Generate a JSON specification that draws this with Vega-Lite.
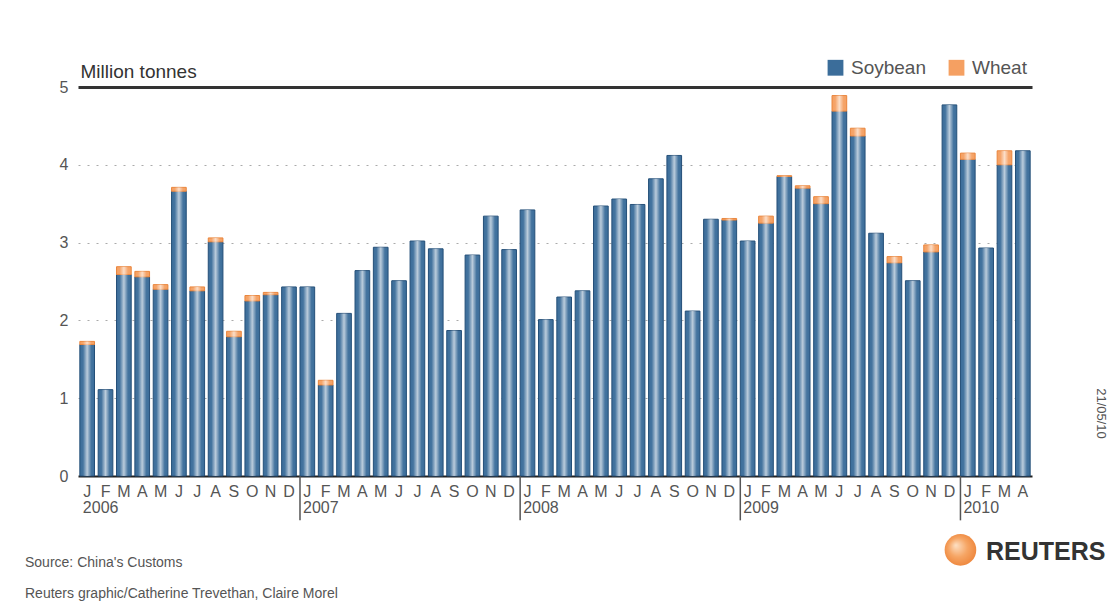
{
  "$schema": "https://vega.github.io/schema/vega-lite/v6.json",
  "width": 954,
  "height": 389,
  "autosize": {"type": "none"},
  "padding": {"left": 78, "top": 87, "right": 83, "bottom": 129},
  "background": "white",
  "config": {
    "font": "Liberation Sans",
    "view": {"stroke": null}
  },
  "title": {
    "text": "Source: China's Customs",
    "subtitle": "Reuters graphic/Catherine Trevethan, Claire Morel",
    "orient": "bottom",
    "anchor": "start",
    "frame": "group",
    "dx": -53,
    "offset": -10,
    "fontSize": 14,
    "fontWeight": "normal",
    "color": "#555",
    "subtitleFontSize": 14,
    "subtitleColor": "#555",
    "subtitlePadding": 17
  },
  "datasets": {
    "imports": [
      {"month": "2006-01", "Soybean": 1.69, "Wheat": 0.04},
      {"month": "2006-02", "Soybean": 1.11, "Wheat": 0},
      {"month": "2006-03", "Soybean": 2.59, "Wheat": 0.10},
      {"month": "2006-04", "Soybean": 2.56, "Wheat": 0.07},
      {"month": "2006-05", "Soybean": 2.40, "Wheat": 0.06},
      {"month": "2006-06", "Soybean": 3.66, "Wheat": 0.05},
      {"month": "2006-07", "Soybean": 2.38, "Wheat": 0.05},
      {"month": "2006-08", "Soybean": 3.01, "Wheat": 0.05},
      {"month": "2006-09", "Soybean": 1.79, "Wheat": 0.07},
      {"month": "2006-10", "Soybean": 2.25, "Wheat": 0.07},
      {"month": "2006-11", "Soybean": 2.33, "Wheat": 0.03},
      {"month": "2006-12", "Soybean": 2.43, "Wheat": 0},
      {"month": "2007-01", "Soybean": 2.43, "Wheat": 0},
      {"month": "2007-02", "Soybean": 1.17, "Wheat": 0.06},
      {"month": "2007-03", "Soybean": 2.09, "Wheat": 0},
      {"month": "2007-04", "Soybean": 2.64, "Wheat": 0},
      {"month": "2007-05", "Soybean": 2.94, "Wheat": 0},
      {"month": "2007-06", "Soybean": 2.51, "Wheat": 0},
      {"month": "2007-07", "Soybean": 3.02, "Wheat": 0},
      {"month": "2007-08", "Soybean": 2.92, "Wheat": 0},
      {"month": "2007-09", "Soybean": 1.87, "Wheat": 0},
      {"month": "2007-10", "Soybean": 2.84, "Wheat": 0},
      {"month": "2007-11", "Soybean": 3.34, "Wheat": 0},
      {"month": "2007-12", "Soybean": 2.91, "Wheat": 0},
      {"month": "2008-01", "Soybean": 3.42, "Wheat": 0},
      {"month": "2008-02", "Soybean": 2.01, "Wheat": 0},
      {"month": "2008-03", "Soybean": 2.30, "Wheat": 0},
      {"month": "2008-04", "Soybean": 2.38, "Wheat": 0},
      {"month": "2008-05", "Soybean": 3.47, "Wheat": 0},
      {"month": "2008-06", "Soybean": 3.56, "Wheat": 0},
      {"month": "2008-07", "Soybean": 3.49, "Wheat": 0},
      {"month": "2008-08", "Soybean": 3.82, "Wheat": 0},
      {"month": "2008-09", "Soybean": 4.12, "Wheat": 0},
      {"month": "2008-10", "Soybean": 2.12, "Wheat": 0},
      {"month": "2008-11", "Soybean": 3.30, "Wheat": 0},
      {"month": "2008-12", "Soybean": 3.29, "Wheat": 0.02},
      {"month": "2009-01", "Soybean": 3.02, "Wheat": 0},
      {"month": "2009-02", "Soybean": 3.25, "Wheat": 0.09},
      {"month": "2009-03", "Soybean": 3.85, "Wheat": 0.01},
      {"month": "2009-04", "Soybean": 3.70, "Wheat": 0.03},
      {"month": "2009-05", "Soybean": 3.50, "Wheat": 0.09},
      {"month": "2009-06", "Soybean": 4.69, "Wheat": 0.20},
      {"month": "2009-07", "Soybean": 4.37, "Wheat": 0.10},
      {"month": "2009-08", "Soybean": 3.12, "Wheat": 0},
      {"month": "2009-09", "Soybean": 2.74, "Wheat": 0.08},
      {"month": "2009-10", "Soybean": 2.51, "Wheat": 0},
      {"month": "2009-11", "Soybean": 2.88, "Wheat": 0.09},
      {"month": "2009-12", "Soybean": 4.77, "Wheat": 0},
      {"month": "2010-01", "Soybean": 4.07, "Wheat": 0.08},
      {"month": "2010-02", "Soybean": 2.93, "Wheat": 0},
      {"month": "2010-03", "Soybean": 4.00, "Wheat": 0.18},
      {"month": "2010-04", "Soybean": 4.18, "Wheat": 0}
    ],
    "years": [
      {"month": "2006-01", "year": "2006"},
      {"month": "2007-01", "year": "2007"},
      {"month": "2008-01", "year": "2008"},
      {"month": "2009-01", "year": "2009"},
      {"month": "2010-01", "year": "2010"}
    ]
  },
  "resolve": {"axis": {"y": "independent"}},
  "layer": [
    {
      "data": {"name": "imports"},
      "transform": [
        {"fold": ["Soybean", "Wheat"], "as": ["crop", "value"]},
        {"filter": "datum.value > 0"}
      ],
      "mark": {"type": "bar", "strokeWidth": 1},
      "encoding": {
        "x": {
          "field": "month",
          "type": "ordinal",
          "scale": {"paddingInner": 0.2, "paddingOuter": 0.1},
          "axis": {
            "title": "REUTERS",
            "titleX": 1027,
            "titleY": 83,
            "titleAlign": "right",
            "titleBaseline": "alphabetic",
            "titleFontSize": 25,
            "titleFontWeight": "bold",
            "titleColor": "#333",
            "labelExpr": "substring('JFMAMJJASOND', toNumber(substring(datum.value, 5, 7)) - 1, toNumber(substring(datum.value, 5, 7)))",
            "labelAngle": 0,
            "labelFontSize": 16,
            "labelColor": "#555",
            "labelPadding": 7,
            "labelOverlap": false,
            "labelBound": false,
            "ticks": false,
            "domainColor": "#222",
            "domainWidth": 2
          }
        },
        "y": {
          "field": "value",
          "type": "quantitative",
          "stack": "zero",
          "scale": {"domain": [0, 5], "nice": false},
          "axis": {
            "values": [0, 1, 2, 3, 4, 5],
            "title": "Million tonnes",
            "titleAngle": 0,
            "titleX": 2,
            "titleY": -10,
            "titleAlign": "left",
            "titleBaseline": "alphabetic",
            "titleFontSize": 19,
            "titleFontWeight": "normal",
            "titleColor": "#333",
            "labelFontSize": 16,
            "labelColor": "#555",
            "labelPadding": 10,
            "ticks": false,
            "domain": false,
            "grid": true,
            "gridColor": {"condition": {"test": "datum.value === 5", "value": "#333"}, "value": "#aaa"},
            "gridWidth": {"condition": {"test": "datum.value === 5", "value": 3}, "value": 1},
            "gridDash": {"condition": {"test": "datum.value === 5", "value": []}, "value": [2, 7]},
            "gridOpacity": {"condition": {"test": "datum.value === 0", "value": 0}, "value": 1}
          }
        },
        "color": {
          "field": "crop",
          "type": "nominal",
          "scale": {"domain": ["Soybean", "Wheat"], "range": ["#3b6d9a", "#f5a062"]},
          "legend": {
            "title": null,
            "orient": "none",
            "legendX": 748,
            "legendY": -29,
            "direction": "horizontal",
            "symbolType": "square",
            "symbolSize": 250,
            "symbolStrokeWidth": 0,
            "labelFontSize": 19,
            "labelColor": "#555",
            "columnPadding": 20,
            "labelOffset": 6
          }
        },
        "stroke": {
          "field": "crop",
          "type": "nominal",
          "scale": {"domain": ["Soybean", "Wheat"], "range": ["#244f78", "#e9853c"]},
          "legend": null
        },
        "order": {"field": "crop"}
      }
    },
    {
      "data": {"name": "imports"},
      "transform": [
        {"fold": ["Soybean", "Wheat"], "as": ["crop", "value"]},
        {"filter": "datum.value > 0"}
      ],
      "mark": {
        "type": "bar",
        "color": {
          "gradient": "linear",
          "x1": 0, "x2": 1, "y1": 0, "y2": 0,
          "stops": [
            {"offset": 0, "color": "rgba(255,255,255,0)"},
            {"offset": 0.22, "color": "rgba(255,255,255,0.05)"},
            {"offset": 0.5, "color": "rgba(255,255,255,0.65)"},
            {"offset": 0.78, "color": "rgba(255,255,255,0.05)"},
            {"offset": 1, "color": "rgba(255,255,255,0)"}
          ]
        }
      },
      "encoding": {
        "x": {"field": "month", "type": "ordinal"},
        "y": {
          "field": "value",
          "type": "quantitative",
          "stack": "zero",
          "axis": {
            "orient": "right",
            "title": "21/05/10",
            "titleAngle": 90,
            "titleX": 68,
            "titleY": 326,
            "titleAlign": "center",
            "titleBaseline": "middle",
            "titleFontSize": 13,
            "titleFontWeight": "normal",
            "titleColor": "#555",
            "labels": false,
            "ticks": false,
            "domain": false,
            "grid": false
          }
        },
        "detail": {"field": "crop"},
        "order": {"field": "crop"}
      }
    },
    {
      "data": {"name": "years"},
      "transform": [{"filter": "datum.year !== '2006'"}],
      "mark": {"type": "rule", "color": "#555", "strokeWidth": 1.5},
      "encoding": {
        "x": {"field": "month", "type": "ordinal", "bandPosition": 0},
        "y": {"datum": 0, "axis": null},
        "y2": {"datum": -0.57}
      }
    },
    {
      "data": {"name": "years"},
      "mark": {"type": "text", "align": "left", "baseline": "alphabetic", "dx": 3, "fontSize": 16, "color": "#555"},
      "encoding": {
        "x": {"field": "month", "type": "ordinal", "bandPosition": 0},
        "y": {"datum": -0.47, "axis": null},
        "text": {"field": "year"}
      }
    },
    {
      "data": {"values": [{"month": "2010-01"}]},
      "mark": {
        "type": "point",
        "shape": "circle",
        "filled": true,
        "size": 1000,
        "opacity": 1,
        "color": {
          "gradient": "radial",
          "x1": 0.35, "y1": 0.35, "x2": 0.5, "y2": 0.5, "r1": 0, "r2": 0.6,
          "stops": [
            {"offset": 0, "color": "#fde0c4"},
            {"offset": 0.5, "color": "#f6a564"},
            {"offset": 1, "color": "#ec7f33"}
          ]
        }
      },
      "encoding": {
        "x": {"field": "month", "type": "ordinal", "bandPosition": 0},
        "y": {"datum": -0.95, "axis": null}
      }
    }
  ]
}
